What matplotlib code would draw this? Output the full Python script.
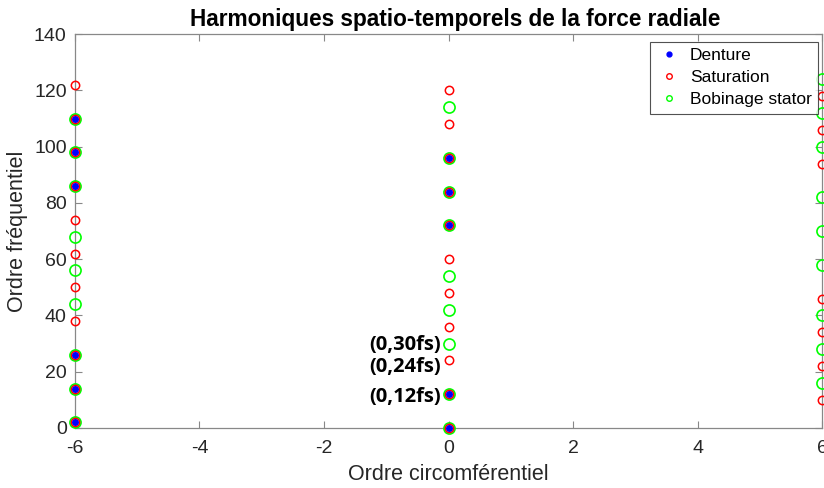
import matplotlib
matplotlib.use("Agg")
import matplotlib.pyplot as plt

plt.rcParams['font.family'] = ['Liberation Sans', 'DejaVu Sans']
plt.rcParams['axes.unicode_minus'] = False

# harmonic orders (circumferential, frequency) for each source
denture_x = [-6] * 6 + [0] * 5
denture_y = [2, 14, 26, 86, 98, 110,
             0, 12, 72, 84, 96]

saturation_x = [-6] * 11 + [0] * 11 + [6] * 7
saturation_y = [2, 14, 26, 38, 50, 62, 74, 86, 98, 110, 122,
                0, 12, 24, 36, 48, 60, 72, 84, 96, 108, 120,
                10, 22, 34, 46, 94, 106, 118]

stator_x = [-6] * 9 + [0] * 9 + [6] * 9
stator_y = [2, 14, 26, 44, 56, 68, 86, 98, 110,
            0, 12, 30, 42, 54, 72, 84, 96, 114,
            16, 28, 40, 58, 70, 82, 100, 112, 124]

annot_text = ['(0,30fs)', '(0,24fs)', '(0,12fs)']
annot_y = [29.5, 21.7, 11]

fig = plt.figure(figsize=(8.24, 4.88), dpi=100)
ax = fig.add_axes([0.091, 0.123, 0.9066, 0.807])

ax.plot(stator_x, stator_y, 'o', mfc='none', mec='#00ff00', ms=8, mew=1.2,
        clip_on=False, zorder=3)
ax.plot(saturation_x, saturation_y, 'o', mfc='none',
        mec='#ff0000', ms=6, mew=1.1, clip_on=False, zorder=4)
ax.plot(denture_x, denture_y, '.', color='#0000ff', ms=8, clip_on=False, zorder=5)

# legend handles (markers only)
h1, = ax.plot([], [], '.', color='#0000ff', ms=7, label='Denture')
h2, = ax.plot([], [], 'o', mfc='none', mec='#ff0000', ms=4, mew=1, label='Saturation')
h3, = ax.plot([], [], 'o', mfc='none', mec='#00ff00', ms=4, mew=1, label='Bobinage stator')
leg = ax.legend(handles=[h1, h2, h3], loc='upper right', fontsize=12.5,
                frameon=True, fancybox=False, handlelength=1.5,
                handletextpad=0.45, borderpad=0.35, labelspacing=0.4,
                borderaxespad=0, bbox_to_anchor=(0.9946, 0.98))
leg.get_frame().set_edgecolor('#262626')
leg.get_frame().set_linewidth(0.8)

for t, yv in zip(annot_text, annot_y):
    ax.text(-0.12, yv, t, ha='right', va='center', fontsize=14.5,
            fontweight='bold', family=['Open Sans', 'DejaVu Sans'])

ax.set_xlim(-6, 6)
ax.set_ylim(0, 140)
ax.set_xticks(range(-6, 7, 2))
ax.set_yticks(range(0, 141, 20))
ax.tick_params(direction='in', top=True, right=True, length=5, width=0.8,
               colors='#888888', labelcolor='#262626', labelsize=14)
ax.tick_params(axis='x', pad=9)
ax.tick_params(axis='y', pad=6)
for s in ax.spines.values():
    s.set_color('#888888')
    s.set_linewidth(0.9)

ax.set_xlabel('Ordre circomférentiel', fontsize=15.5, color='#262626', labelpad=4.5)
ax.set_ylabel('Ordre fréquentiel', fontsize=15.5, color='#262626', labelpad=4)
ax.set_title('Harmoniques spatio-temporels de la force radiale', fontsize=16.3,
             fontweight='bold', pad=6, x=0.509)

fig.savefig('out.png', dpi=100)
